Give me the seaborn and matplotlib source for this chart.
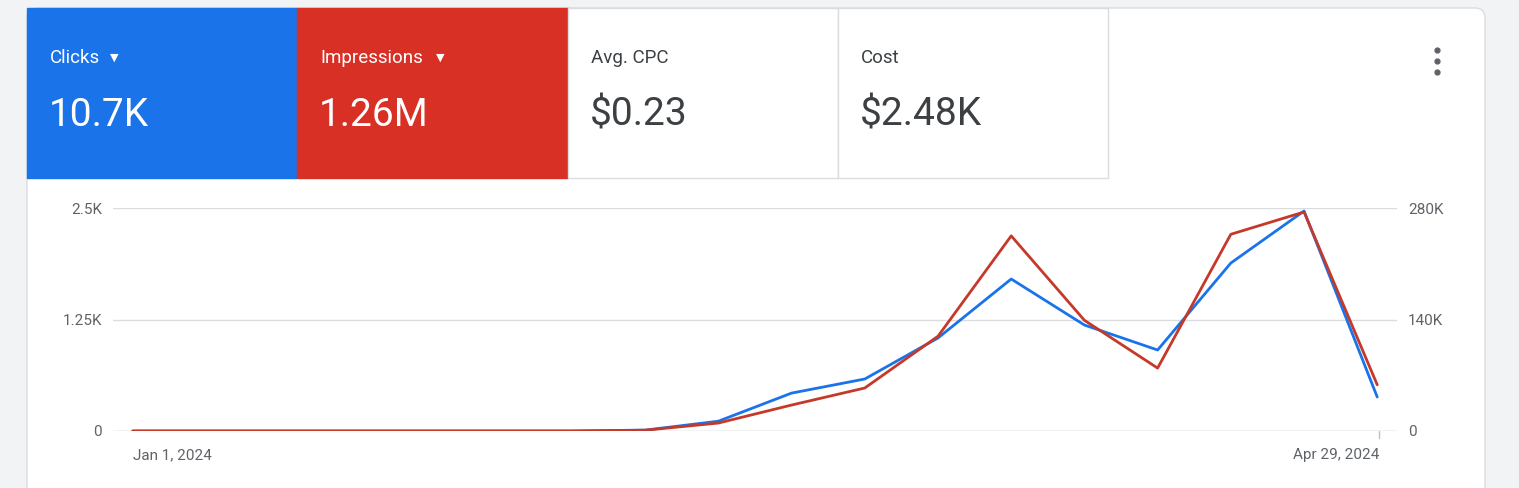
import matplotlib
matplotlib.use("Agg")
import matplotlib.pyplot as plt
import seaborn as sns
import pandas as pd
from matplotlib.patches import FancyBboxPatch, Rectangle

sns.set_theme(style="white")
plt.rcParams['font.family'] = ['Roboto', 'DejaVu Sans']

weeks = pd.date_range("2024-01-01", "2024-04-29", freq="7D")
clicks = [0, 0, 0, 0, 0, 0, 0, 10, 110, 425, 583, 1043, 1704, 1188, 908, 1883, 2466, 381]
impressions = [0, 0, 0, 0, 0, 0, 0, 1000, 10000, 32600, 54000, 119000, 245000, 139000, 79000, 247000, 275000, 58000]
tile_titles = ["Clicks", "Impressions", "Avg. CPC", "Cost"]
tile_values = ["10.7K", "1.26M", "$0.23", "$2.48K"]
left_ticks = [0, 1250, 2500]
left_labels = ["0", "1.25K", "2.5K"]
right_ticks = [0, 140000, 280000]
right_labels = ["0", "140K", "280K"]

df = pd.DataFrame({"idx": range(len(weeks)), "clicks": clicks, "impr": impressions})

W, H = 1519, 488
fig = plt.figure(figsize=(W/100, H/100), dpi=100)
fig.patch.set_facecolor("#f1f3f4")

def px(x, y, w, h):
    return [x/W, 1-(y+h)/H, w/W, h/H]

bg = fig.add_axes([0, 0, 1, 1]); bg.set_xlim(0, W); bg.set_ylim(H, 0); bg.axis("off")
bg.add_patch(FancyBboxPatch((27, 8), 1458, 500, boxstyle="round,pad=0,rounding_size=10",
                            fc="white", ec="#dadce0", lw=1))
tile_fc = ["#1a73e8", "#d93025", "white", "white"]
for i in range(4):
    x0 = 27 + i*270.3
    bg.add_patch(Rectangle((x0, 8), 270.3, 170, fc=tile_fc[i], ec="#dadce0" if i >= 2 else tile_fc[i], lw=1))
    col = "white" if i < 2 else "#3c4043"
    t = bg.text(x0+23, 58, tile_titles[i], color=col, fontsize=13.5, va="center", ha="left")
    if i < 2:
        bg.text(x0+23 + (60 if i == 0 else 116), 58, "▼", color="white", fontsize=8, va="center", ha="left",
                family="DejaVu Sans")
    bg.text(x0+22, 115, tile_values[i], color=col, fontsize=28, va="center", ha="left")
for yy in (50, 61, 72):
    bg.plot(1437, yy, "o", color="#5f6368", ms=3.5)

ax = fig.add_axes(px(113, 208, 1284, 223))
ax.set_xlim(-0.27, 17.27); ax.set_ylim(0, 2500)
ax2 = ax.twinx(); ax2.set_ylim(0, 280000)
for y in left_ticks:
    ax.axhline(y, color="#dadce0" if y else "#bdc1c6", lw=1, zorder=0)
sns.lineplot(data=df, x="idx", y="clicks", ax=ax, color="#1a73e8", lw=2)
sns.lineplot(data=df, x="idx", y="impr", ax=ax2, color="#c5392a", lw=2)
for a in (ax, ax2):
    a.set_facecolor("none")
    for s in a.spines.values(): s.set_visible(False)
    a.set_xlabel(""); a.set_ylabel("")
    a.tick_params(length=0, labelsize=11, labelcolor="#5f6368", pad=8)
ax.set_yticks(left_ticks, left_labels)
ax2.set_yticks(right_ticks, right_labels)
ax.set_xticks([])
bg.text(133, 455, "Jan 1, 2024", fontsize=11, color="#5f6368", va="center", ha="left")
bg.text(1379, 455, "Apr 29, 2024", fontsize=11, color="#5f6368", va="center", ha="right")
bg.plot([1379, 1379], [431, 438], color="#bdc1c6", lw=1)
fig.savefig("out.png", dpi=100, facecolor=fig.get_facecolor())
